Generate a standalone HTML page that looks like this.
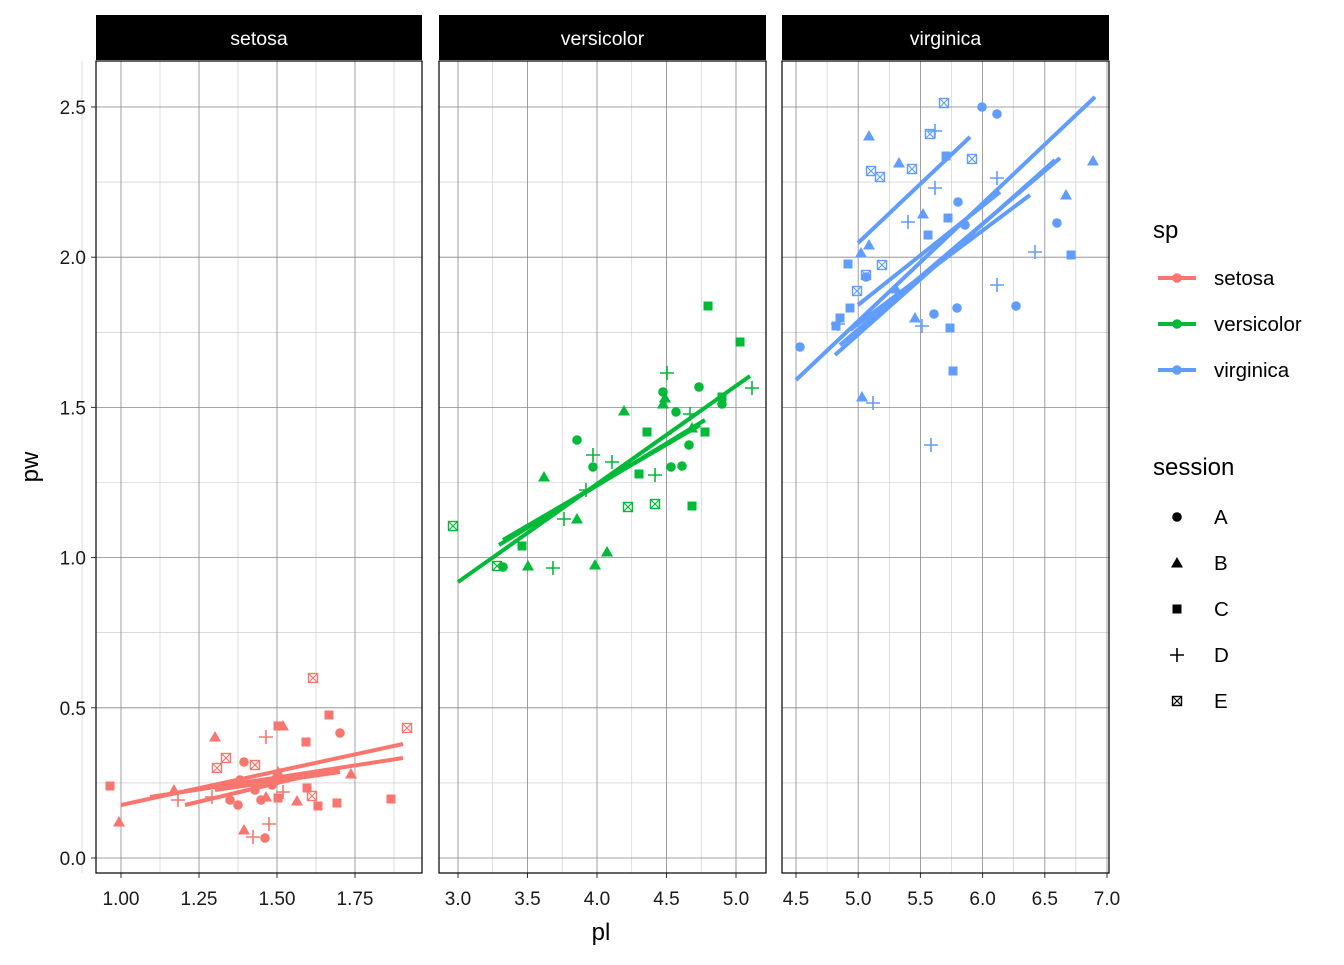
<!DOCTYPE html>
<html><head><meta charset="utf-8"><style>
body{margin:0;background:#fff;}
svg text{font-family:"Liberation Sans",Arial,sans-serif;}
</style></head><body>
<svg id="s" width="1344" height="960" xmlns="http://www.w3.org/2000/svg"></svg>
<script>
const S=document.getElementById('s');let h='';
const yv=v=>858-300.4*v;
const panels=[
 {x0:96,x1:422,name:'setosa',ticks:[1,1.25,1.5,1.75],lab:['1.00','1.25','1.50','1.75'],fx:v=>121+312*(v-1),minor:[0.875,1.125,1.375,1.625,1.875]},
 {x0:439,x1:766,name:'versicolor',ticks:[3,3.5,4,4.5,5],lab:['3.0','3.5','4.0','4.5','5.0'],fx:v=>458+139*(v-3),minor:[3.25,3.75,4.25,4.75]},
 {x0:782,x1:1109,name:'virginica',ticks:[4.5,5,5.5,6,6.5,7],lab:['4.5','5.0','5.5','6.0','6.5','7.0'],fx:v=>796+124.4*(v-4.5),minor:[4.75,5.25,5.75,6.25,6.75]}];
const T=61,B=873;
panels.forEach(p=>{
 for(let v=0.25;v<2.75;v+=0.5){h+=`<line x1="${p.x0}" x2="${p.x1}" y1="${yv(v)}" y2="${yv(v)}" stroke="#c8c8c8" stroke-width="0.6"/>`;}
 p.minor.forEach(v=>{h+=`<line x1="${p.fx(v)}" x2="${p.fx(v)}" y1="${T}" y2="${B}" stroke="#c8c8c8" stroke-width="0.6"/>`;});
 for(let v=0;v<=2.5;v+=0.5){h+=`<line x1="${p.x0}" x2="${p.x1}" y1="${yv(v)}" y2="${yv(v)}" stroke="#888" stroke-width="0.8"/>`;}
 p.ticks.forEach((v,i)=>{const x=p.fx(v);h+=`<line x1="${x}" x2="${x}" y1="${T}" y2="${B}" stroke="#888" stroke-width="0.8"/><line x1="${x}" x2="${x}" y1="${B}" y2="${B+5}" stroke="#333" stroke-width="1"/><text x="${x}" y="${B+32}" font-size="19" text-anchor="middle" fill="#1a1a1a">${p.lab[i]}</text>`;});
 h+=`<rect x="${p.x0}" y="15" width="${p.x1-p.x0}" height="45" fill="#000"/><text x="${(p.x0+p.x1)/2}" y="45" font-size="19.5" fill="#fff" text-anchor="middle">${p.name}</text>`;
 h+=`<rect x="${p.x0}" y="${T}" width="${p.x1-p.x0}" height="${B-T}" fill="none" stroke="#000" stroke-width="1.2"/>`;
});
for(let v=0;v<=2.5;v+=0.5){h+=`<line x1="91" x2="96" y1="${yv(v)}" y2="${yv(v)}" stroke="#333"/><text x="86" y="${yv(v)+7}" font-size="19" text-anchor="end" fill="#1a1a1a">${v.toFixed(1)}</text>`;}
h+=`<text x="601" y="940" font-size="24" text-anchor="middle">pl</text><text transform="translate(38,467) rotate(-90)" font-size="24" text-anchor="middle">pw</text>`;
function sym(t,x,y,c){
 if(t=='A')return `<circle cx="${x}" cy="${y}" r="4.8" fill="${c}"/>`;
 if(t=='B')return `<polygon points="${x},${y-6} ${x-6},${y+4.5} ${x+6},${y+4.5}" fill="${c}"/>`;
 if(t=='C')return `<rect x="${x-4.5}" y="${y-4.5}" width="9" height="9" fill="${c}"/>`;
 if(t=='D')return `<path d="M${x-7} ${y}H${x+7}M${x} ${y-7}V${y+7}" stroke="${c}" stroke-width="1.6"/>`;
 return `<rect x="${x-4.5}" y="${y-4.5}" width="9" height="9" fill="none" stroke="${c}" stroke-width="1.4"/><path d="M${x-4.5} ${y-4.5}L${x+4.5} ${y+4.5}M${x+4.5} ${y-4.5}L${x-4.5} ${y+4.5}" stroke="${c}" stroke-width="1.2"/>`;
}
const data={
'#F8766D':{C:[[110,786],[278,726],[306,742],[329,715],[318,806],[337,803],[391,799],[278,798],[307,788]],
 B:[[119,822],[174,790],[215,737],[244,830],[283,726],[278,772],[297,801],[351,774],[266,797]],
 A:[[244,762],[238,805],[265,838],[340,733],[240,780],[255,790],[261,800],[230,800],[272,785]],
 D:[[178,800],[266,737],[253,837],[269,824],[212,797],[283,792]],
 E:[[313,678],[407,728],[217,768],[226,758],[255,765],[312,796]],
 L:[[121,805,403,744],[150,797,403,758],[185,805,340,768],[215,790,340,772]]},
'#00BA38':{E:[[453,526],[497,566],[628,507],[655,504]],
 A:[[503,567],[577,440],[593,467],[663,392],[699,387],[676,412],[682,466],[689,445],[671,467],[722,404]],
 B:[[544,477],[528,566],[595,565],[607,552],[577,519],[624,411],[663,404],[665,398],[692,428]],
 C:[[522,546],[647,432],[639,474],[692,506],[705,432],[708,306],[740,342],[722,397]],
 D:[[553,568],[593,455],[612,462],[586,490],[667,373],[655,475],[690,414],[752,388],[564,519]],
 L:[[458,582,750,376],[499,545,705,420],[503,540,700,425]]},
'#619CFF':{A:[[800,347],[982,107],[997,114],[958,202],[965,225],[934,314],[957,308],[1016,306],[1057,223],[866,277]],
 B:[[869,136],[899,163],[923,214],[869,245],[861,253],[862,397],[915,318],[896,289],[1066,195],[1093,161]],
 C:[[848,264],[850,308],[840,318],[836,326],[946,156],[948,218],[928,235],[950,328],[953,371],[1071,255]],
 D:[[935,131],[935,188],[908,222],[997,178],[922,326],[873,403],[931,445],[997,285],[1035,252],[838,324]],
 E:[[944,103],[930,134],[871,171],[880,177],[912,169],[972,159],[882,265],[866,275],[857,291]],
 L:[[796,380,1095,97],[858,243,970,137],[858,305,1000,192],[835,355,1055,160],[840,345,1060,158],[850,330,1030,195]]}};
for(const c in data){const d=data[c];
 ['A','B','C','D','E'].forEach(t=>(d[t]||[]).forEach(p=>h+=sym(t,p[0],p[1],c)));
 d.L.forEach(l=>h+=`<line x1="${l[0]}" y1="${l[1]}" x2="${l[2]}" y2="${l[3]}" stroke="${c}" stroke-width="4"/>`);}
h+=`<text x="1153" y="238" font-size="24">sp</text>`;
[['setosa','#F8766D',278],['versicolor','#00BA38',324],['virginica','#619CFF',370]].forEach(a=>{
 h+=`<line x1="1158" x2="1196" y1="${a[2]}" y2="${a[2]}" stroke="${a[1]}" stroke-width="4"/><circle cx="1177" cy="${a[2]}" r="4.8" fill="${a[1]}"/><text x="1214" y="${a[2]+7}" font-size="20.5">${a[0]}</text>`;});
h+=`<text x="1153" y="475" font-size="24">session</text>`;
['A','B','C','D','E'].forEach((t,i)=>{const y=517+46*i;h+=sym(t,1177,y,'#000')+`<text x="1214" y="${y+7}" font-size="20.5">${t}</text>`;});
S.innerHTML=h;
</script>
</body></html>
